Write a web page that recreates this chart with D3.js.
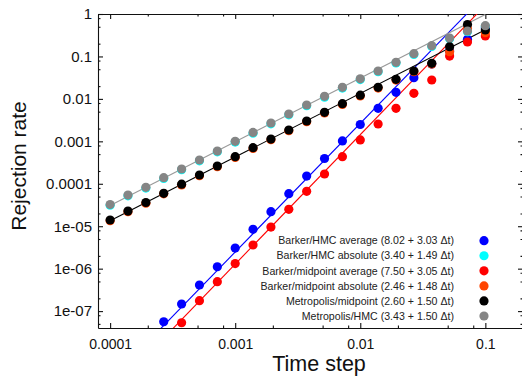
<!DOCTYPE html>
<html lang="en">
  <head>
    <meta charset="UTF-8" />
    <title>Rejection rate vs time step</title>
    <style>
      body { margin: 0; background: #fff; }
      svg { display: block; font-family: "Liberation Sans", Arial, sans-serif; }
    </style>
  </head>
  <body>
    <script src="https://cdn.jsdelivr.net/npm/d3@7"></script>
    <div id="app"></div>
    <script>
    //Data
      const timeSteps = [0.0001, 0.0001389, 0.0001931, 0.0002683, 0.0003728, 0.0005179, 0.0007197,
        0.001, 0.001389, 0.001931, 0.002683, 0.003728, 0.005179, 0.007197,
        0.01, 0.01389, 0.01931, 0.02683, 0.03728, 0.05179, 0.07197, 0.1];

      const barkerHmcAverage = [null, null, null, 5.62e-8, 1.47e-7, 4.12e-7, 1.11e-6,
        3.06e-6, 8.45e-6, 2.2e-5, 5.83e-5, 1.52e-4, 3.94e-4, 1.02e-3,
        2.49e-3, 6.0e-3, 0.0143, 0.0316, 0.066, 0.134, 0.253, 0.468];
      const barkerHmcAbsolute = [3.12e-5, 5.2e-5, 7.9e-5, 1.33e-4, 2.14e-4, 3.48e-4, 5.67e-4,
        9.6e-4, 1.56e-3, 2.59e-3, 4.22e-3, 6.9e-3, 0.011, 0.018,
        0.0285, 0.0436, 0.07, 0.111, 0.172, 0.261, 0.382, 0.51];
      const barkerMidAverage = [null, null, null, null, 5.32e-8, 1.76e-7, 4.93e-7,
        1.32e-6, 3.61e-6, 9.57e-6, 2.5e-5, 6.64e-5, 1.7e-4, 4.34e-4,
        1.08e-3, 2.56e-3, 6.0e-3, 0.0135, 0.0279, 0.102, 0.219, 0.303];
      const barkerMidAbsolute = [1.35e-5, 2.2e-5, 3.5e-5, 5.8e-5, 9.4e-5, 1.55e-4, 2.52e-4,
        4.18e-4, 6.8e-4, 1.09e-3, 1.78e-3, 2.9e-3, 4.65e-3, 7.4e-3,
        0.0117, 0.018, 0.0278, 0.0436, 0.066, 0.129, 0.45, 0.3625];
      const metroMidpoint = [1.4e-5, 2.28e-5, 3.62e-5, 5.96e-5, 9.76e-5, 1.61e-4, 2.62e-4,
        4.34e-4, 7.07e-4, 1.13e-3, 1.85e-3, 3.01e-3, 4.83e-3, 7.7e-3,
        0.0122, 0.0187, 0.0289, 0.0454, 0.0689, 0.17, 0.566, 0.42];
      const metroHmc = [3.25e-5, 5.43e-5, 8.25e-5, 1.39e-4, 2.23e-4, 3.63e-4, 5.91e-4,
        1.0e-3, 1.62e-3, 2.7e-3, 4.4e-3, 7.17e-3, 0.0115, 0.0187,
        0.0297, 0.0454, 0.0728, 0.116, 0.179, 0.272, 0.398, 0.53];

      const seriesLabels = [
        "Barker/HMC average (8.02 + 3.03 Δt)",
        "Barker/HMC absolute (3.40 + 1.49 Δt)",
        "Barker/midpoint average (7.50 + 3.05 Δt)",
        "Barker/midpoint absolute (2.46 + 1.48 Δt)",
        "Metropolis/midpoint (2.60 + 1.50 Δt)",
        "Metropolis/HMC (3.43 + 1.50 Δt)"
      ];
      const seriesValues = [barkerHmcAverage, barkerHmcAbsolute, barkerMidAverage,
        barkerMidAbsolute, metroMidpoint, metroHmc];
      const seriesColors = ["#0000ff", "#00ffff", "#ff0000", "#ff4500", "#000000", "#858585"];
      const lineColors = ["#0000ff", null, "#ff0000", null, "#000000", "#999999"];

      // fit: log(rate) = a + b log(dt)
      const fitIntercept = [8.02, 3.40, 7.50, 2.46, 2.60, 3.43];
      const fitSlope = [3.03, 1.49, 3.05, 1.48, 1.50, 1.50];
      const fitRange = [0.0001, 0.1];

      const xTickValues = [0.0001, 0.001, 0.01, 0.1];
      const xTickLabels = ["0.0001", "0.001", "0.01", "0.1"];
      const yTickValues = [1, 0.1, 0.01, 0.001, 0.0001, 1e-5, 1e-6, 1e-7];
      const yTickLabels = ["1", "0.1", "0.01", "0.001", "0.0001", "1e-05", "1e-06", "1e-07"];

    //SVG
      const w = 522;
      const h = 376;
      const pLeft = 98, pRight = 523, pTop = 14, pBottom = 328;

      const svg = d3.select( "#app" )
        .append( "svg" )
        .attr( "width", w )
        .attr( "height", h );

    //Scales
      const xScale = d3.scaleLog()
        .domain([ 8e-5, 0.2 ])
        .range([ pLeft, pRight ]);
      const yScale = d3.scaleLog()
        .domain([ 4e-8, 1 ])
        .range([ pBottom, pTop ]);

      const minor = ( scale ) => {
        const [ lo, hi ] = scale.domain();
        const out = [];
        for ( let e = -9; e <= 1; e++ ) {
          [ 2, 5, 8 ].forEach( m => {
            const v = m * Math.pow( 10, e );
            if ( v > lo * 1.001 && v < hi * 0.999 ) out.push( v );
          });
        }
        return out;
      };

    //Axes
      const styleAxis = ( g ) => {
        g.selectAll( "path, line" ).attr( "stroke", "#111" ).attr( "stroke-width", 1.1 );
        g.selectAll( "text" ).attr( "fill", "#111" );
      };

      svg.append( "g" )
        .attr( "transform", "translate(0," + pBottom + ")" )
        .call( d3.axisBottom( xScale ).tickValues( xTickValues )
          .tickFormat( ( d, i ) => xTickLabels[i] )
          .tickSizeInner( -5 ).tickSizeOuter( 0 ).tickPadding( 11.5 ) )
        .attr( "font-size", 14 ).attr( "font-family", null )
        .call( styleAxis );

      svg.append( "g" )
        .attr( "transform", "translate(" + pLeft + ",0)" )
        .call( d3.axisLeft( yScale ).tickValues( yTickValues )
          .tickFormat( ( d, i ) => yTickLabels[i] )
          .tickSizeInner( -5 ).tickSizeOuter( 0 ).tickPadding( 6 ) )
        .attr( "font-size", 15 ).attr( "font-family", null )
        .call( styleAxis );

      svg.append( "g" )
        .attr( "transform", "translate(0," + pTop + ")" )
        .call( d3.axisTop( xScale ).tickValues( xTickValues ).tickFormat( "" )
          .tickSizeInner( -5 ).tickSizeOuter( 0 ) )
        .call( styleAxis );

      svg.append( "g" )
        .attr( "transform", "translate(" + pRight + ",0)" )
        .call( d3.axisRight( yScale ).tickValues( yTickValues ).tickFormat( "" )
          .tickSizeInner( -5 ).tickSizeOuter( 0 ) )
        .call( styleAxis );

      // minor ticks on the four sides
      [ [ d3.axisBottom, xScale, pBottom, true ], [ d3.axisTop, xScale, pTop, true ],
        [ d3.axisLeft, yScale, pLeft, false ], [ d3.axisRight, yScale, pRight, false ] ]
        .forEach( ( [ ax, sc, pos, horiz ] ) => {
          const g = svg.append( "g" )
            .attr( "transform", horiz ? "translate(0," + pos + ")" : "translate(" + pos + ",0)" )
            .call( ax( sc ).tickValues( minor( sc ) ).tickFormat( "" ).tickSizeInner( -2.5 ).tickSizeOuter( 0 ) )
            .call( styleAxis );
          g.select( ".domain" ).remove();
        });

    //Titles
      svg.append( "text" )
        .attr( "transform", "translate(19," + ( ( pTop + pBottom ) / 2 - 5 ) + ") rotate(-90)" )
        .attr( "text-anchor", "middle" )
        .attr( "dy", "0.35em" )
        .attr( "font-size", 21 )
        .attr( "fill", "#111" )
        .text( "Rejection rate" );

      svg.append( "text" )
        .attr( "x", 319 )
        .attr( "y", 371 )
        .attr( "text-anchor", "middle" )
        .attr( "font-size", 21.5 )
        .attr( "fill", "#111" )
        .text( "Time step" );

    //Plot
      svg.append( "clipPath" )
        .attr( "id", "clip" )
        .append( "rect" )
        .attr( "x", pLeft ).attr( "y", pTop )
        .attr( "width", pRight - pLeft ).attr( "height", pBottom - pTop );

      const plot = svg.append( "g" ).attr( "clip-path", "url(#clip)" );

      const line = d3.line()
        .x( d => xScale( d[0] ) )
        .y( d => yScale( d[1] ) );

      lineColors.forEach( ( c, i ) => {
        if ( !c ) return;
        const pts = fitRange.map( t => [ t, Math.exp( fitIntercept[i] + fitSlope[i] * Math.log( t ) ) ] );
        plot.append( "path" )
          .attr( "d", line( pts ) )
          .attr( "fill", "none" )
          .attr( "stroke", c )
          .attr( "stroke-width", 1.1 );
      });

      seriesValues.forEach( ( vals, i ) => {
        plot.append( "g" )
          .selectAll( "circle" )
          .data( timeSteps.map( ( t, k ) => [ t, vals[k] ] ).filter( d => d[1] != null ) )
          .enter()
          .append( "circle" )
          .attr( "cx", d => xScale( d[0] ) )
          .attr( "cy", d => yScale( d[1] ) )
          .attr( "r", 4.6 )
          .attr( "fill", seriesColors[i] );
      });

    //Legend
      const legend = svg.append( "g" )
        .attr( "font-size", 10.6 );

      seriesLabels.forEach( ( label, i ) => {
        const y = 240.7 + i * 15.06;
        legend.append( "text" )
          .attr( "x", 454 )
          .attr( "y", y )
          .attr( "dy", "0.35em" )
          .attr( "text-anchor", "end" )
          .attr( "fill", "#222" )
          .text( label );
        legend.append( "circle" )
          .attr( "cx", 484 )
          .attr( "cy", y )
          .attr( "r", 4.6 )
          .attr( "fill", seriesColors[i] );
      });
    </script>
  </body>
</html>
